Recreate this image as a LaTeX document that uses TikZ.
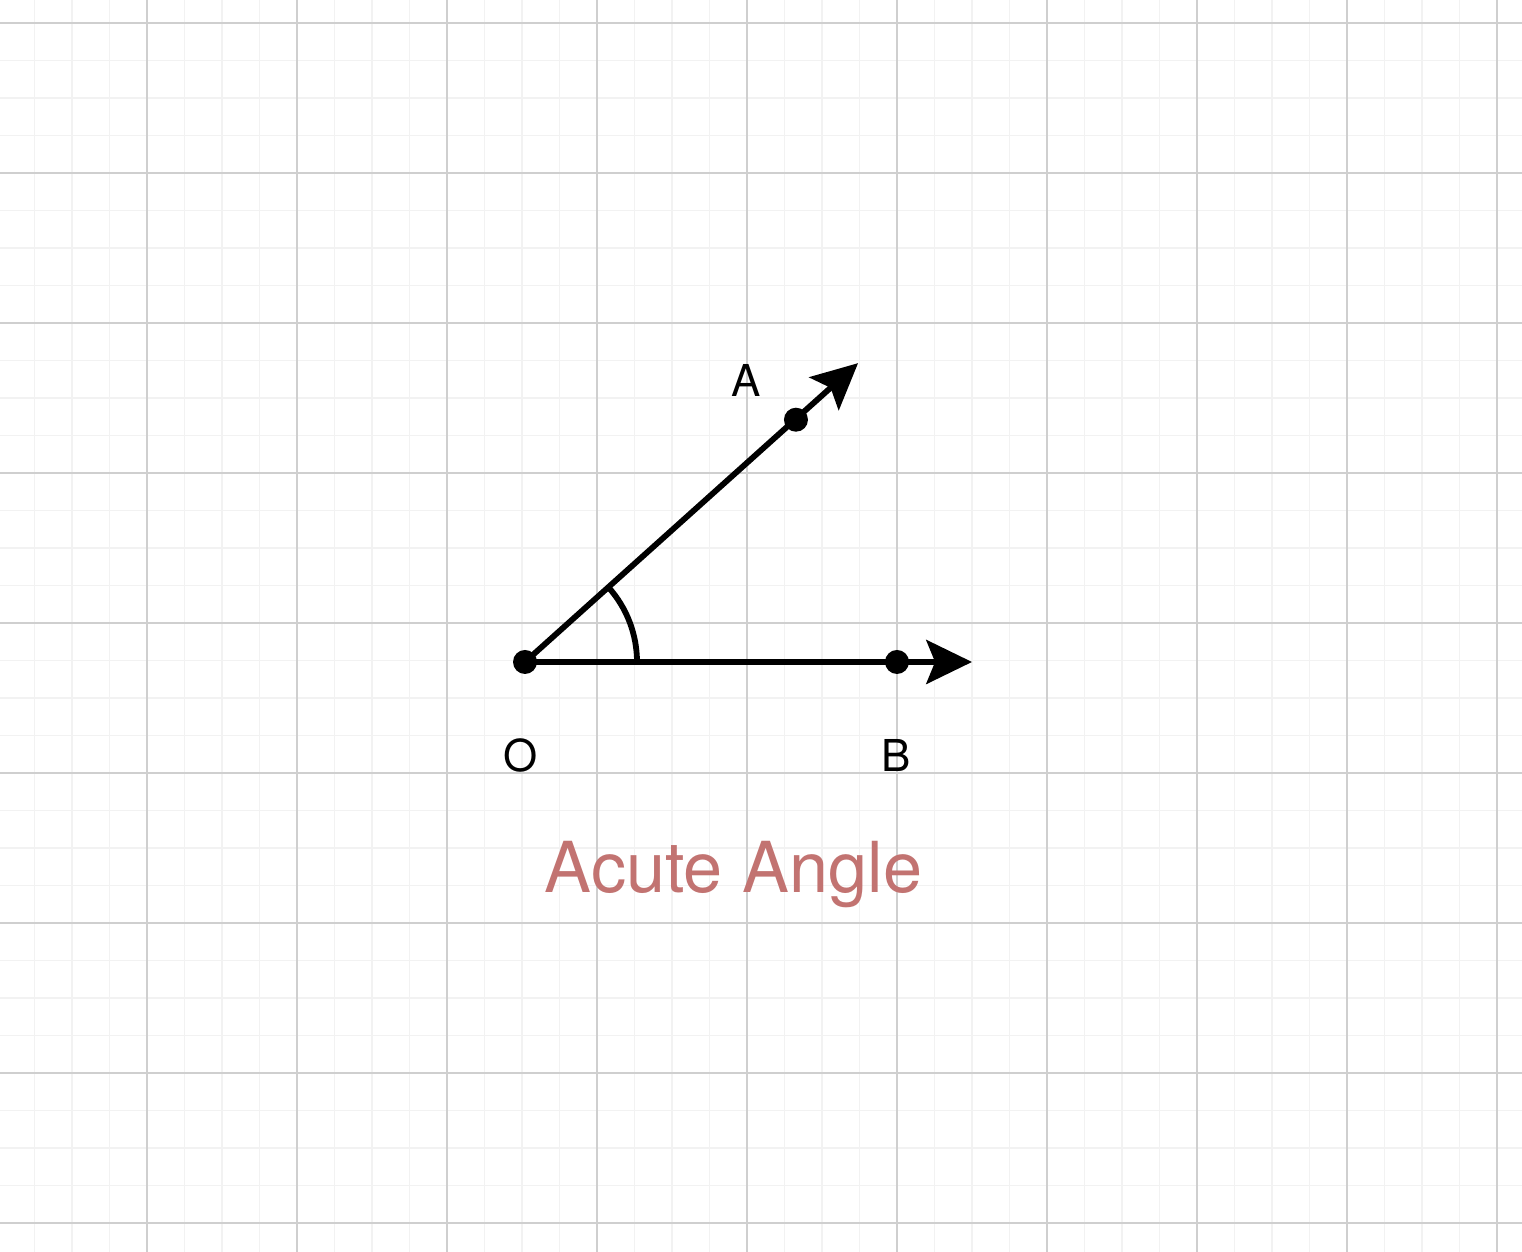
\documentclass[tikz,border=0pt]{standalone}
\usepackage{fontspec}
\setmainfont{TeX Gyre Heros}
\usepackage{tikz}
\usetikzlibrary{arrows.meta,calc}
\definecolor{gridmajor}{HTML}{CFCFCF}
\definecolor{gridminor}{HTML}{F2F2F2}
\definecolor{titlec}{HTML}{C27371}

\begin{document}
\begin{tikzpicture}[
  ray/.style={line width=3.3pt, -{Stealth[length=26pt, width=25pt, inset=5pt]}},
  dot/.style={circle, fill=black, minimum size=0.48cm, inner sep=0pt},
  lbl/.style={anchor=base, font=\fontsize{25}{30}\selectfont}]
  % paper with grid
  \useasboundingbox (0,0) rectangle (30.44,25.04);
  \fill[white] (0,0) rectangle (30.44,25.04);
  \begin{scope}
    \clip (0,0) rectangle (30.44,25.04);
    \foreach \i in {-4,...,40}
      \draw[gridminor, line width=1.1pt] ({2.94+0.75*\i},0) -- ++(0,25.04);
    \foreach \i in {-1,...,34}
      \draw[gridminor, line width=1.1pt] (0,{0.58+0.75*\i}) -- ++(30.44,0);
    \foreach \i in {-1,...,10}
      \draw[gridmajor, line width=0.9pt] ({2.94+3*\i},0) -- ++(0,25.04);
    \foreach \i in {0,...,8}
      \draw[gridmajor, line width=0.9pt] (0,{0.58+3*\i}) -- ++(30.44,0);
  \end{scope}
  % angle AOB
  \coordinate (O) at (10.5,11.8);
  \coordinate (B) at (17.94,11.8);
  \coordinate (Bend) at (19.44,11.8);
  \coordinate (A) at ($(O)+(41.8:7.27)$);
  \coordinate (Aend) at ($(O)+(41.9:8.95)$);
  \draw[ray] (O) -- (Bend);
  \draw[ray] (O) -- (Aend);
  \draw[line width=3.3pt] ($(O)+(0:2.24)$) arc[start angle=0, end angle=41.8, radius=2.24];
  \node[dot] (o) at (O) {};
  \node[dot] (b) at (B) {};
  \node[dot] (a) at (A) {};
  \node[lbl] (labA) at (14.92,17.10) {A};
  \node[lbl] (labO) at (10.42,9.60) {O};
  \node[lbl] (labB) at (17.92,9.60) {B};
  \node[anchor=base, text=titlec, font=\fontsize{40}{48}\selectfont] (name) at (14.67,7.18) {Acute Angle};
\end{tikzpicture}
\end{document}
